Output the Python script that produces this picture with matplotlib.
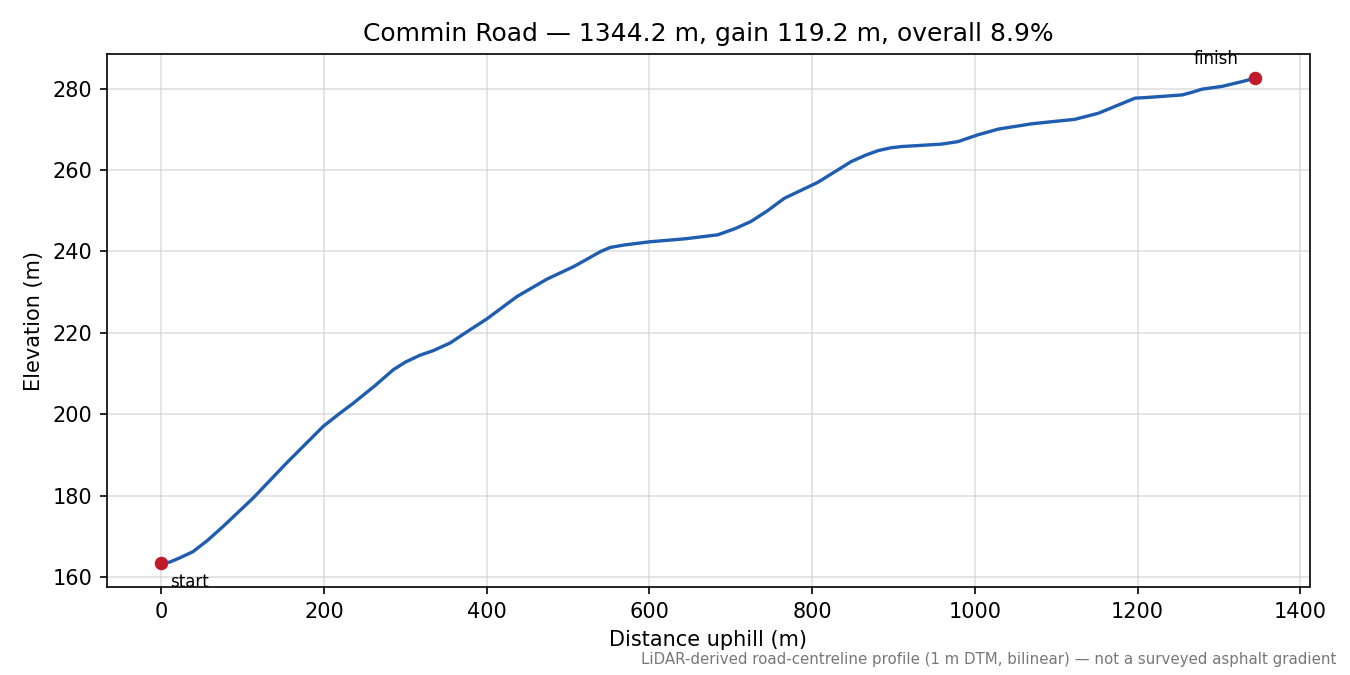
import matplotlib.pyplot as plt

# Profile (distance uphill in m, elevation in m)
distance_m = [0, 10, 22, 39, 57, 76, 113, 154, 199, 220, 236, 262, 285, 300,
              318, 334, 355, 376, 400, 437, 474, 507, 525, 540, 552, 569, 601,
              643, 684, 705, 725, 745, 766, 807, 848, 866, 881, 897, 910, 959,
              979, 1004, 1029, 1070, 1123, 1152, 1175, 1197, 1214, 1255, 1268,
              1279, 1304, 1329, 1344.2]
elevation_m = [163.4, 163.6, 164.6, 166.2, 169.0, 172.4, 179.4, 188.0, 197.0,
               200.3, 202.7, 206.9, 210.9, 212.8, 214.5, 215.6, 217.5, 220.3,
               223.4, 228.9, 233.2, 236.3, 238.3, 240.0, 241.0, 241.6, 242.4,
               243.1, 244.1, 245.6, 247.4, 250.0, 253.1, 257.0, 262.1, 263.7,
               264.8, 265.5, 265.8, 266.4, 267.0, 268.7, 270.1, 271.4, 272.5,
               274.0, 275.9, 277.7, 277.9, 278.5, 279.2, 279.9, 280.6, 281.8,
               282.6]

total_len = 1344.2
gain = 119.2
grade = 8.9

line_color = "#1f5db0"
dot_color = "#c11b2a"

fig, ax = plt.subplots(figsize=(9, 4.5), dpi=150)
fig.subplots_adjust(left=0.079, right=0.970, top=0.92, bottom=0.130)

ax.plot(distance_m, elevation_m, color=line_color, lw=1.6, zorder=2,
        solid_joinstyle="round")
ax.scatter([distance_m[0], distance_m[-1]], [elevation_m[0], elevation_m[-1]],
           color=dot_color, s=30, zorder=3)

ax.annotate("start", (distance_m[0], elevation_m[0]), xytext=(4, -5),
            textcoords="offset points", ha="left", va="top", fontsize=8)
ax.annotate("finish", (distance_m[-1], elevation_m[-1]), xytext=(-8, 5),
            textcoords="offset points", ha="right", va="bottom", fontsize=8)

ax.grid(True, color="#cccccc", alpha=0.6, lw=0.8)
ax.set_axisbelow(True)
ax.set_xlabel("Distance uphill (m)")
ax.set_ylabel("Elevation (m)")
ax.set_title(f"Commin Road — {total_len:.1f} m, gain {gain:.1f} m, overall {grade:.1f}%")

fig.text(0.99, 0.012,
         "LiDAR-derived road-centreline profile (1 m DTM, bilinear) — not a surveyed asphalt gradient",
         ha="right", va="bottom", fontsize=7.2, color="#777777")

fig.savefig("out.png", dpi=150)
